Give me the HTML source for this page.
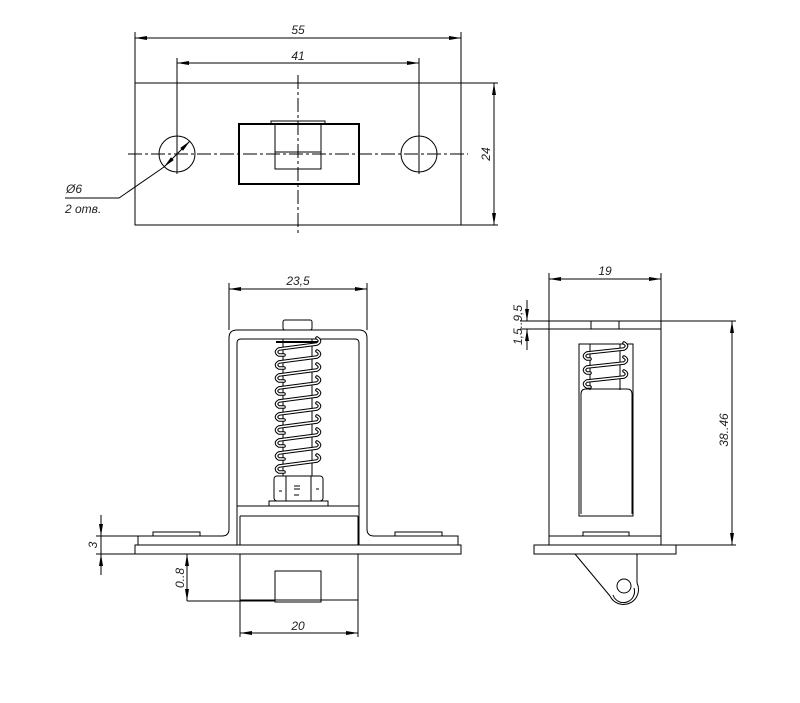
<!DOCTYPE html>
<html><head><meta charset="utf-8"><style>
html,body{margin:0;padding:0;background:#fff}
svg{display:block}
text{font-family:"Liberation Sans",sans-serif;font-style:italic;fill:#222}
</style></head><body>
<svg width="800" height="703" viewBox="0 0 800 703" xmlns="http://www.w3.org/2000/svg">
<defs>
<marker id="a" viewBox="0 0 12 4" refX="12" refY="2" markerWidth="12" markerHeight="4" markerUnits="userSpaceOnUse" orient="auto-start-reverse"><path d="M0,0 L12,2 L0,4 z" fill="#000"/></marker>
</defs>
<g fill="none" stroke="#000" stroke-width="1">
<!-- TOP VIEW -->
<rect x="135" y="83" width="326" height="142"/>
<line x1="135" y1="32" x2="135" y2="83"/><line x1="461" y1="32" x2="461" y2="83"/>
<line x1="135" y1="38" x2="461" y2="38" marker-start="url(#a)" marker-end="url(#a)"/>
<line x1="177" y1="58" x2="177" y2="174"/><line x1="419" y1="58" x2="419" y2="174"/>
<line x1="177" y1="63" x2="419" y2="63" marker-start="url(#a)" marker-end="url(#a)"/>
<line x1="461" y1="83" x2="498" y2="83"/><line x1="461" y1="225" x2="498" y2="225"/>
<line x1="494" y1="83" x2="494" y2="225" marker-start="url(#a)" marker-end="url(#a)"/>
<circle cx="177" cy="154" r="18"/><circle cx="419" cy="154" r="18"/>
<line x1="128" y1="154" x2="468" y2="154" stroke-dasharray="14,3,3,3"/>
<line x1="298" y1="75" x2="298" y2="233" stroke-dasharray="14,3,3,3"/>
<rect x="239" y="124" width="120" height="60" stroke-width="2"/>
<rect x="271" y="121" width="54" height="3"/>
<rect x="275" y="124" width="46" height="28"/>
<rect x="275" y="152" width="46" height="17"/>
<line x1="190" y1="141" x2="164" y2="167" marker-start="url(#a)" marker-end="url(#a)"/>
<polyline points="164,167 119,198 65,198"/>
<!-- FRONT VIEW -->
<line x1="229" y1="283" x2="229" y2="330"/><line x1="367" y1="283" x2="367" y2="330"/>
<line x1="229" y1="289" x2="367" y2="289" marker-start="url(#a)" marker-end="url(#a)"/>
<path d="M138,536 L222,536 Q229,536 229,529 L229,338 Q229,330 237,330 L359,330 Q367,330 367,338 L367,529 Q367,536 374,536 L458,536 L458,545 L138,545 Z"/>
<path d="M237,545 L237,343 Q237,339 241,339 L355,339 Q359,339 359,343 L359,545"/>
<line x1="237" y1="506" x2="359" y2="506"/><line x1="240" y1="516" x2="358" y2="516"/>
<line x1="240" y1="516" x2="240" y2="545"/><line x1="358" y1="516" x2="358" y2="545"/>
<rect x="135" y="545" width="326" height="9"/>
<rect x="153" y="532" width="47" height="4"/><rect x="395" y="532" width="47" height="4"/>
<rect x="283" y="320" width="29" height="10" rx="2"/>
<line x1="283" y1="339" x2="283" y2="476"/><line x1="312" y1="339" x2="312" y2="476"/>
<line x1="276" y1="342" x2="320" y2="342" stroke-width="2"/>
<rect x="274" y="476" width="49" height="25" rx="3"/>
<line x1="286" y1="476" x2="286" y2="501"/><line x1="311" y1="476" x2="311" y2="501"/>
<path d="M294,486 h6 M294,489 h6 M294,495 h5 M279,491 h3 M316,489 h3"/>
<rect x="269" y="501" width="59" height="5"/>
<rect x="240" y="554" width="118" height="46"/>
<rect x="275" y="571" width="46" height="31"/>
<line x1="187" y1="601" x2="275" y2="601"/>
<line x1="187" y1="554" x2="187" y2="601" marker-start="url(#a)" marker-end="url(#a)"/>
<line x1="240" y1="600" x2="240" y2="637"/><line x1="358" y1="600" x2="358" y2="637"/>
<line x1="240" y1="633" x2="358" y2="633" marker-start="url(#a)" marker-end="url(#a)"/>
<line x1="96" y1="536" x2="138" y2="536"/><line x1="96" y1="554" x2="135" y2="554"/>
<line x1="101" y1="515" x2="101" y2="536" marker-end="url(#a)"/>
<line x1="101" y1="575" x2="101" y2="554" marker-end="url(#a)"/>
<line x1="101" y1="536" x2="101" y2="554"/>
<!-- SIDE VIEW -->
<line x1="549" y1="273" x2="549" y2="329"/><line x1="661" y1="273" x2="661" y2="329"/>
<line x1="549" y1="279" x2="661" y2="279" marker-start="url(#a)" marker-end="url(#a)"/>
<rect x="549" y="329" width="112" height="216"/>
<line x1="520" y1="321" x2="736" y2="321"/><line x1="520" y1="329" x2="549" y2="329"/>
<rect x="591" y="321" width="28" height="8"/>
<line x1="527" y1="300" x2="527" y2="321" marker-end="url(#a)"/>
<line x1="527" y1="350" x2="527" y2="329" marker-end="url(#a)"/>
<line x1="661" y1="545" x2="736" y2="545"/>
<line x1="732" y1="321" x2="732" y2="545" marker-start="url(#a)" marker-end="url(#a)"/>
<rect x="579" y="344" width="54" height="172"/>
<line x1="590" y1="344" x2="590" y2="390"/><line x1="620" y1="344" x2="620" y2="390"/>
<path d="M581,514 L581,394 Q581,389 586,389 L627,389 Q632,389 632,394 L632,514"/>
<line x1="549" y1="536" x2="661" y2="536"/>
<rect x="583" y="532" width="46" height="4"/>
<rect x="534" y="545" width="142" height="9"/>
<path d="M575,554 L610,596"/><path d="M637,554 L637,583"/>
<path d="M637,583 A13,13 0 0 1 610,596"/>
<path d="M634,588 A10,10 0 0 1 613,595"/>
<circle cx="624" cy="586" r="7"/>
</g>
<!-- springs -->
<g fill="none" stroke-linecap="round">
<g stroke="#000" stroke-width="3.6">
<path d="M284,355 L279,355 Q274,352 279,349 L317,344 Q322,341 317,338"/>
<path d="M284,368 L279,368 Q274,365 279,362 L317,357 Q322,354 317,351"/>
<path d="M284,381 L279,381 Q274,378 279,375 L317,370 Q322,367 317,364"/>
<path d="M284,394 L279,394 Q274,391 279,388 L317,383 Q322,380 317,377"/>
<path d="M284,407 L279,407 Q274,404 279,401 L317,396 Q322,393 317,390"/>
<path d="M284,420 L279,420 Q274,417 279,414 L317,409 Q322,406 317,403"/>
<path d="M284,433 L279,433 Q274,430 279,427 L317,422 Q322,419 317,416"/>
<path d="M284,446 L279,446 Q274,443 279,440 L317,435 Q322,432 317,429"/>
<path d="M284,459 L279,459 Q274,456 279,453 L317,448 Q322,445 317,442"/>
<path d="M284,472 L279,472 Q274,469 279,466 L317,461 Q322,458 317,455"/>
<path d="M590,359 L587,359 Q582,356 587,353 L624,349 Q629,346 624,343"/>
<path d="M590,373 L587,373 Q582,370 587,367 L624,363 Q629,360 624,357"/>
<path d="M590,387 L587,387 Q582,384 587,381 L624,377 Q629,374 624,371"/>
</g>
<g stroke="#fff" stroke-width="1.5">
<path d="M284,355 L279,355 Q274,352 279,349 L317,344 Q322,341 317,338"/>
<path d="M284,368 L279,368 Q274,365 279,362 L317,357 Q322,354 317,351"/>
<path d="M284,381 L279,381 Q274,378 279,375 L317,370 Q322,367 317,364"/>
<path d="M284,394 L279,394 Q274,391 279,388 L317,383 Q322,380 317,377"/>
<path d="M284,407 L279,407 Q274,404 279,401 L317,396 Q322,393 317,390"/>
<path d="M284,420 L279,420 Q274,417 279,414 L317,409 Q322,406 317,403"/>
<path d="M284,433 L279,433 Q274,430 279,427 L317,422 Q322,419 317,416"/>
<path d="M284,446 L279,446 Q274,443 279,440 L317,435 Q322,432 317,429"/>
<path d="M284,459 L279,459 Q274,456 279,453 L317,448 Q322,445 317,442"/>
<path d="M284,472 L279,472 Q274,469 279,466 L317,461 Q322,458 317,455"/>
<path d="M590,359 L587,359 Q582,356 587,353 L624,349 Q629,346 624,343"/>
<path d="M590,373 L587,373 Q582,370 587,367 L624,363 Q629,360 624,357"/>
<path d="M590,387 L587,387 Q582,384 587,381 L624,377 Q629,374 624,371"/>
</g>
</g>
<!-- text -->
<g font-size="12">
<text x="298" y="34" text-anchor="middle">55</text>
<text x="298" y="60" text-anchor="middle">41</text>
<text x="490" y="154" text-anchor="middle" transform="rotate(-90 490 154)">24</text>
<text x="66" y="193">Ø6</text>
<text x="65" y="213">2 отв.</text>
<text x="298" y="285" text-anchor="middle">23,5</text>
<text x="298" y="630" text-anchor="middle">20</text>
<text x="184" y="578" text-anchor="middle" transform="rotate(-90 184 578)">0..8</text>
<text x="97" y="545" text-anchor="middle" transform="rotate(-90 97 545)">3</text>
<text x="605" y="275" text-anchor="middle">19</text>
<text x="522" y="325" text-anchor="middle" transform="rotate(-90 522 325)">1,5..9,5</text>
<text x="728" y="430" text-anchor="middle" transform="rotate(-90 728 430)">38..46</text>
</g>
</svg>
</body></html>
